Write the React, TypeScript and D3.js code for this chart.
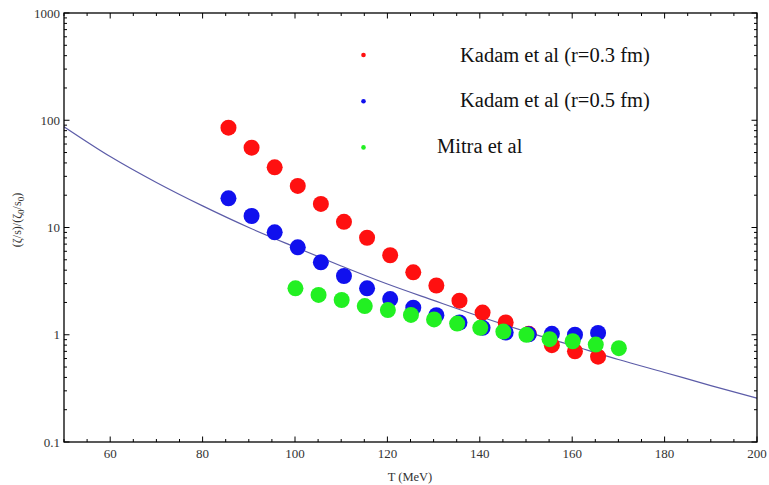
import React from "react";
import * as d3 from "d3";

const redT = [85.6, 90.6, 95.6, 100.6, 105.6, 110.6, 115.6, 120.6, 125.6, 130.6, 135.6, 140.6, 145.6, 150.6, 155.6, 160.6, 165.6];
const redVals = [85.2, 55.5, 36.4, 24.4, 16.6, 11.3, 8.03, 5.51, 3.82, 2.88, 2.08, 1.61, 1.3, 1.02, 0.8, 0.7, 0.624];
const blueT = [85.6, 90.6, 95.6, 100.6, 105.6, 110.6, 115.6, 120.6, 125.6, 130.6, 135.6, 140.6, 145.6, 150.6, 155.6, 160.6, 165.6];
const blueVals = [18.7, 12.8, 9.02, 6.53, 4.73, 3.53, 2.71, 2.15, 1.79, 1.52, 1.3, 1.16, 1.05, 1.01, 1.02, 1.0, 1.04];
const greenT = [100.1, 105.1, 110.1, 115.1, 120.1, 125.1, 130.1, 135.1, 140.1, 145.1, 150.1, 155.1, 160.1, 165.1, 170.1];
const greenVals = [2.71, 2.35, 2.11, 1.85, 1.7, 1.53, 1.39, 1.27, 1.16, 1.07, 1.0, 0.91, 0.87, 0.81, 0.75];
const curveT = [50, 60, 70, 80, 90, 100, 110, 120, 130, 140, 150, 160, 170, 180, 190, 200];
const curveVals = [87.1, 45.9, 26.3, 15.9, 10.0, 6.58, 4.38, 2.97, 2.09, 1.48, 1.07, 0.794, 0.588, 0.445, 0.336, 0.256];

const xTickLabels = [60, 80, 100, 120, 140, 160, 180, 200];
const yTickLabels = [0.1, 1, 10, 100, 1000];
const legendLabels = ["Kadam et al (r=0.3 fm)", "Kadam et al (r=0.5 fm)", "Mitra et al"];

const W = 769;
const H = 485;
const L = 64, R = 757, T = 13, B = 442;

export default function App() {
  const x = d3.scaleLinear().domain([50, 200]).range([L, R]);
  const y = d3.scaleLog().domain([0.1, 1000]).range([B, T]);

  const xMinor = d3.range(50, 201, 5);
  const yMinor: number[] = [];
  [0.1, 1, 10, 100].forEach((d) => {
    for (let k = 2; k <= 9; k++) yMinor.push(d * k);
  });

  const line = d3
    .line<number>()
    .x((_, i) => x(curveT[i]))
    .y((d) => y(d))
    .curve(d3.curveMonotoneX);

  const series = [
    { t: redT, v: redVals, c: "#ff1010" },
    { t: blueT, v: blueVals, c: "#1010ee" },
    { t: greenT, v: greenVals, c: "#22f022" },
  ];

  const serif = "'Liberation Serif', 'DejaVu Serif', serif";

  return (
    <svg
      width={W}
      height={H}
      style={{ position: "absolute", left: 0, top: 0, background: "#fff" }}
      fontFamily={serif}
    >
      <rect x={0} y={0} width={W} height={H} fill="#fff" />
      <defs>
        <clipPath id="clip">
          <rect x={L} y={T} width={R - L} height={B - T} />
        </clipPath>
      </defs>
      <path d={line(curveVals) || ""} fill="none" stroke="#5c5ca8" strokeWidth={1.2} clipPath="url(#clip)" />
      {series.map((s, si) => (
        <g key={si}>
          {s.v.map((v, i) => (
            <circle key={i} cx={x(s.t[i])} cy={y(v)} r={8} fill={s.c} />
          ))}
        </g>
      ))}
      {legendLabels.map((lab, i) => (
        <g key={lab}>
          <circle cx={363.5} cy={55 + i * 46.2} r={2.3} fill={series[i].c} />
          <text x={i < 2 ? 460 : 437} y={61.5 + i * 45.5} fontSize={20.5} fill="#111">
            {lab}
          </text>
        </g>
      ))}
      <rect x={L} y={T} width={R - L} height={B - T} fill="none" stroke="#000" strokeWidth={1.3} />
      {xMinor.map((t) => {
        const major = t % 20 === 0;
        const len = major ? 5.5 : 3;
        const px = x(t);
        return (
          <g key={"x" + t}>
            <line x1={px} x2={px} y1={B} y2={B - len} stroke="#000" strokeWidth={1} />
            <line x1={px} x2={px} y1={T} y2={T + len} stroke="#000" strokeWidth={1} />
          </g>
        );
      })}
      {xTickLabels.map((t) => (
        <text key={"xl" + t} x={x(t)} y={458} textAnchor="middle" fontSize={13} fill="#333">
          {t}
        </text>
      ))}
      {yTickLabels.map((v) => (
        <g key={"y" + v}>
          <line x1={L} x2={L + 5.5} y1={y(v)} y2={y(v)} stroke="#000" />
          <line x1={R} x2={R - 5.5} y1={y(v)} y2={y(v)} stroke="#000" />
          <text x={L - 4} y={y(v) + 4.5} textAnchor="end" fontSize={13} fill="#333">
            {String(v)}
          </text>
        </g>
      ))}
      {yMinor.map((v) => (
        <g key={"ym" + v}>
          <line x1={L} x2={L + 3} y1={y(v)} y2={y(v)} stroke="#000" />
          <line x1={R} x2={R - 3} y1={y(v)} y2={y(v)} stroke="#000" />
        </g>
      ))}
      <text x={410} y={481} textAnchor="middle" fontSize={12.5} fill="#333">
        T (MeV)
      </text>
      <text transform="translate(21,220) rotate(-90)" textAnchor="middle" fontSize={12} fill="#333">
        (ζ/s)/(ζ<tspan dy={3} fontSize={9}>0</tspan>
        <tspan dy={-3}>/s</tspan>
        <tspan dy={3} fontSize={9}>0</tspan>
        <tspan dy={-3}>)</tspan>
      </text>
    </svg>
  );
}
